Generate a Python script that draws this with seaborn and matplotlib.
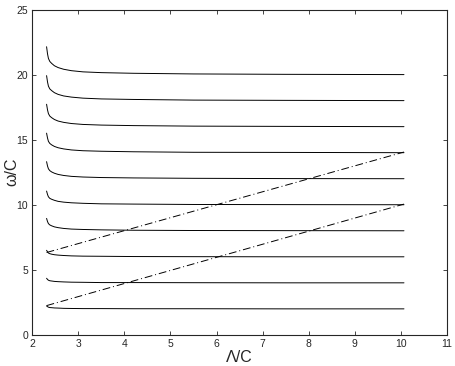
import pandas as pd
import matplotlib.pyplot as plt
import seaborn as sns

# Lambda/C sample points shared by all branches
lam = [2.31, 2.33, 2.35, 2.38, 2.42, 2.48, 2.56, 2.68, 2.85, 3.1, 3.5, 4.2, 5.5, 7.5, 10.07]

# omega/C branches
w20 = [22.14, 21.60, 21.24, 21.01, 20.86, 20.68, 20.54, 20.41, 20.30, 20.21, 20.15, 20.10, 20.05, 20.02, 20.00]
w18 = [19.92, 19.44, 19.11, 18.90, 18.77, 18.61, 18.48, 18.36, 18.27, 18.19, 18.13, 18.09, 18.04, 18.02, 18.00]
w16 = [17.72, 17.29, 17.00, 16.81, 16.69, 16.55, 16.43, 16.33, 16.24, 16.17, 16.12, 16.08, 16.04, 16.02, 16.00]
w14 = [15.50, 15.13, 14.87, 14.71, 14.60, 14.48, 14.38, 14.29, 14.21, 14.15, 14.11, 14.07, 14.03, 14.02, 14.00]
w12 = [13.31, 12.98, 12.76, 12.62, 12.52, 12.42, 12.33, 12.25, 12.18, 12.13, 12.09, 12.06, 12.03, 12.01, 12.00]
w10 = [11.05, 10.79, 10.61, 10.49, 10.42, 10.34, 10.26, 10.20, 10.15, 10.11, 10.07, 10.05, 10.02, 10.01, 10.00]
w8 = [8.95, 8.71, 8.55, 8.45, 8.38, 8.30, 8.24, 8.18, 8.13, 8.10, 8.07, 8.04, 8.02, 8.01, 8.00]
w6 = [6.50, 6.38, 6.29, 6.24, 6.20, 6.16, 6.13, 6.10, 6.07, 6.05, 6.04, 6.02, 6.01, 6.00, 6.00]
w4 = [4.35, 4.26, 4.20, 4.16, 4.14, 4.11, 4.09, 4.07, 4.05, 4.04, 4.02, 4.02, 4.01, 4.00, 4.00]
w2 = [2.22, 2.17, 2.13, 2.10, 2.09, 2.07, 2.06, 2.04, 2.03, 2.02, 2.02, 2.01, 2.01, 2.00, 2.00]

# dash-dot straight lines
line_lam = [2.31, 10.07]
line_low = [2.25, 10.05]
line_up = [6.33, 14.05]

branches = {"2": w2, "4": w4, "6": w6, "8": w8, "10": w10,
            "12": w12, "14": w14, "16": w16, "18": w18, "20": w20}

rows = []
for name, ws in branches.items():
    for x, y in zip(lam, ws):
        rows.append({"lam": x, "w": y, "branch": name})
df = pd.DataFrame(rows)

lines = pd.DataFrame({
    "lam": line_lam + line_lam,
    "w": line_low + line_up,
    "line": ["low", "low", "up", "up"],
})

sns.set_style("ticks")
plt.rcParams["font.family"] = ["Liberation Sans", "DejaVu Sans"]
plt.rcParams["xtick.direction"] = "in"
plt.rcParams["ytick.direction"] = "in"

fig = plt.figure(figsize=(4.55, 3.66), dpi=100)
ax = fig.add_axes([0.071, 0.085, 0.911, 0.889])

sns.lineplot(data=df, x="lam", y="w", units="branch", estimator=None,
             color="black", linewidth=0.7, ax=ax)
sns.lineplot(data=lines, x="lam", y="w", units="line", estimator=None,
             color="black", linewidth=0.7, linestyle=(0, (8, 3, 1, 3)), ax=ax)

ax.set_xlim(2, 11)
ax.set_ylim(0, 25)
ax.set_xticks(range(2, 12))
ax.set_yticks(range(0, 26, 5))
ax.tick_params(labelsize=7.5, length=3, width=0.6, top=True, right=True, pad=3)
for s in ax.spines.values():
    s.set_visible(True)
    s.set_linewidth(0.8)

ax.set_xlabel("Λ/C", fontsize=11.5)
ax.set_ylabel("ω/C", fontsize=11.5)
ax.xaxis.set_label_coords(0.5, -0.045)
ax.yaxis.set_label_coords(-0.03, 0.5)

plt.savefig("out.png", dpi=100)
